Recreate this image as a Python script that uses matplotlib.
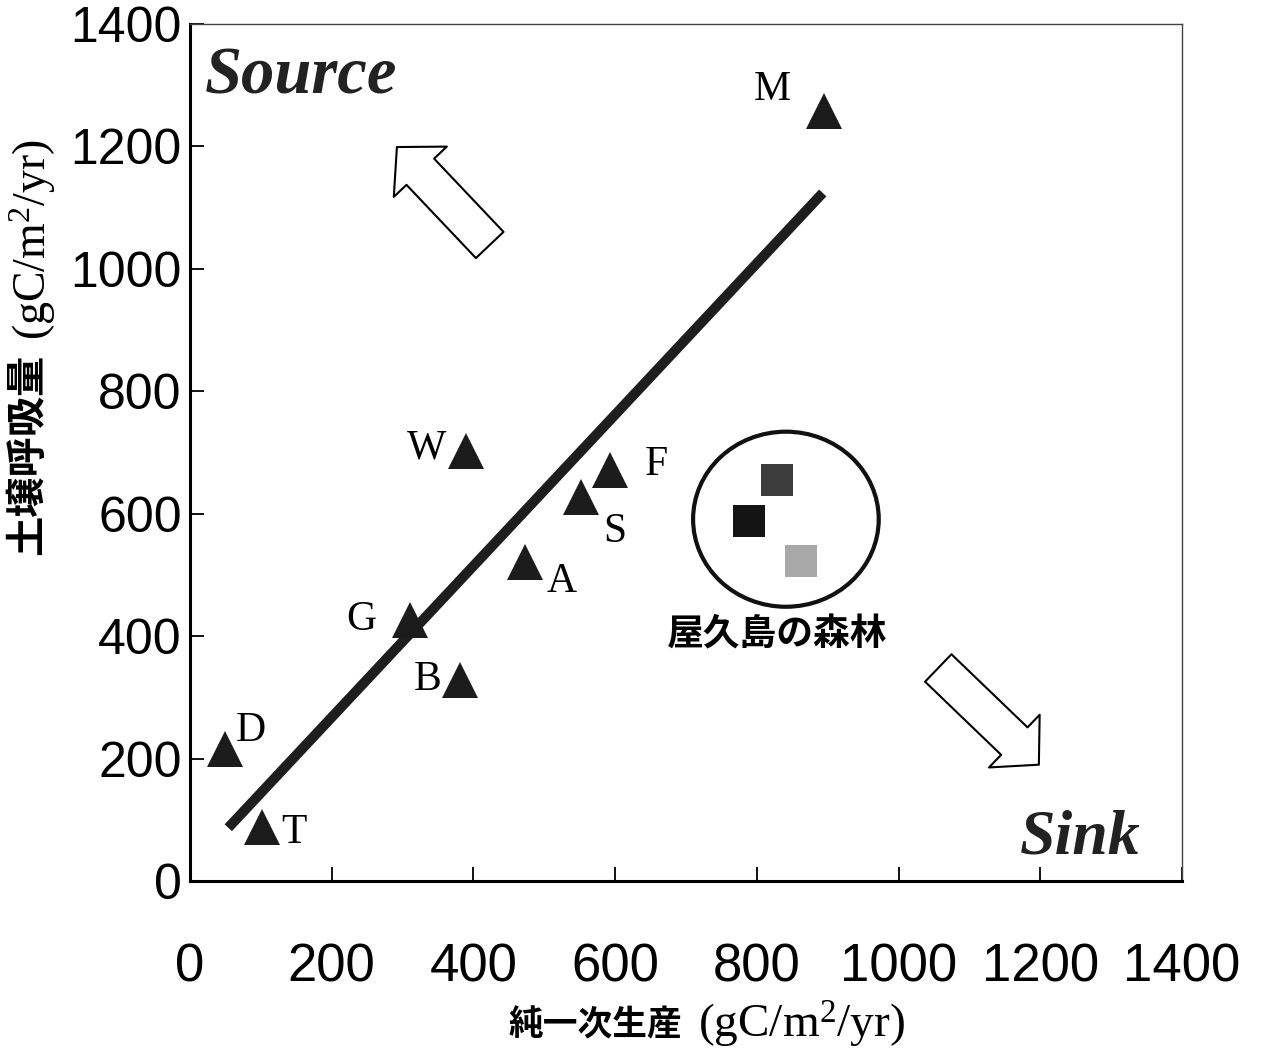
import matplotlib
matplotlib.use("Agg")
import matplotlib.pyplot as plt
from matplotlib.patches import Ellipse

plt.rcParams['mathtext.fontset'] = 'custom'
plt.rcParams['mathtext.rm'] = 'Liberation Serif'
plt.rcParams['mathtext.it'] = 'Liberation Serif:italic'
plt.rcParams['mathtext.bf'] = 'Liberation Serif:bold'

# ---------------- data ----------------
sites = ['M', 'W', 'F', 'S', 'A', 'G', 'B', 'D', 'T']
npp = [895, 389, 593, 552, 473, 310, 381, 49, 102]          # net primary production
rs = [1258, 702, 671, 627, 521, 426, 328, 216, 88]           # soil respiration
label_offsets = [(-37, 15), (-28, 2), (33, 4), (24, -25), (26, -14),
                 (-35, 0), (-23, 0), (19, 13), (23, -4)]

yaku_npp = [828, 789, 862]
yaku_rs = [655, 588, 523]
yaku_colors = ['#3c3c3c', '#141414', '#a8a8a8']
yaku_circle = (841, 591, 262, 286)   # centre x, centre y, width, height
yaku_label = '屋久島の森林'

fit_x = [54, 893]
fit_y = [87, 1124]

ticks = [0, 200, 400, 600, 800, 1000, 1200, 1400]
tick_labels = ['0', '200', '400', '600', '800', '1000', '1200', '1400']

xlabel_jp = '純一次生産'
ylabel_jp = '土壌呼吸量'
unit_label = r'(gC/m$^{2}$/yr)'

# ---------------- figure ----------------
W, H = 1278, 1053
fig = plt.figure(figsize=(W / 100, H / 100), dpi=100)
ax = fig.add_axes([190 / W, 1 - 881 / H, 992 / W, 857 / H])
ax.set_xlim(0, 1400)
ax.set_ylim(0, 1400)

# regression line
ax.plot(fit_x, fit_y, color='#1e1e1e', lw=7.2, solid_capstyle='butt', zorder=3)

# triangles
ax.plot(npp, rs, linestyle='none', marker='^', markersize=26,
        color='#1c1c1c', markeredgewidth=0, zorder=4)
for s, x, y, off in zip(sites, npp, rs, label_offsets):
    ax.annotate(s, (x, y), xytext=off, textcoords='offset points',
                ha='center', va='center', fontsize=30,
                family='Liberation Serif', color='black')

# Yakushima squares + circle
for x, y, c in zip(yaku_npp, yaku_rs, yaku_colors):
    ax.plot([x], [y], linestyle='none', marker='s', markersize=23,
            color=c, markeredgewidth=0, zorder=4)
cx, cy, cw, ch = yaku_circle
ax.add_patch(Ellipse((cx, cy), cw, ch, fill=False, lw=3.0,
                     edgecolor='#111111', zorder=3))
ax.text(828, 402, yaku_label, ha='center', va='center', fontsize=26.5,
        fontweight='bold', family=['Noto Sans CJK JP', 'DejaVu Sans'])

# hollow block arrows
arrow_style = 'simple,head_length=2.45,head_width=5.26,tail_width=2.74'
ax.annotate('', xy=(292, 1199), xytext=(423, 1039),
            arrowprops=dict(arrowstyle=arrow_style, mutation_scale=10,
                            fc='white', ec='black', lw=1.5,
                            shrinkA=0, shrinkB=0))
ax.annotate('', xy=(1198, 190), xytext=(1056, 348),
            arrowprops=dict(arrowstyle=arrow_style, mutation_scale=10,
                            fc='white', ec='black', lw=1.5,
                            shrinkA=0, shrinkB=0))

# Source / Sink
ax.text(21, 1313, 'Source', ha='left', va='center', fontsize=48,
        fontweight='bold', fontstyle='italic', family='Liberation Serif',
        color='#222222')
ax.text(1341, 70, 'Sink', ha='right', va='center', fontsize=46,
        fontweight='bold', fontstyle='italic', family='Liberation Serif',
        color='#222222')

# spines & ticks
for side in ['left', 'bottom']:
    ax.spines[side].set_linewidth(2.2)
for side in ['top', 'right']:
    ax.spines[side].set_linewidth(1.0)
    ax.spines[side].set_color('#444444')
ax.set_xticks(ticks)
ax.set_yticks(ticks)
ax.set_xticklabels(tick_labels, family='Liberation Sans', fontsize=38)
ax.set_yticklabels(tick_labels, family='Liberation Sans', fontsize=36)
ax.tick_params(axis='both', direction='in', length=10, width=1.3)
ax.tick_params(axis='x', pad=44)
ax.tick_params(axis='y', pad=6)

# axis labels (two-part: bold CJK + serif unit)
fig.text(682 / W, 1 - 1025 / H, xlabel_jp, ha='right', va='center',
         fontsize=25, fontweight='bold',
         family=['Noto Sans CJK JP', 'DejaVu Sans'])
fig.text(698 / W, 1 - 1025 / H, unit_label, ha='left', va='center',
         fontsize=34, family='Liberation Serif')
fig.text(28 / W, 1 - 555 / H, ylabel_jp, ha='center', va='bottom',
         rotation=90, fontsize=29, fontweight='bold',
         family=['Noto Sans CJK JP', 'DejaVu Sans'])
fig.text(33 / W, 1 - 340 / H, unit_label, ha='center', va='bottom',
         rotation=90, fontsize=33, family='Liberation Serif')

fig.savefig('out.png', dpi=100, facecolor='white')
